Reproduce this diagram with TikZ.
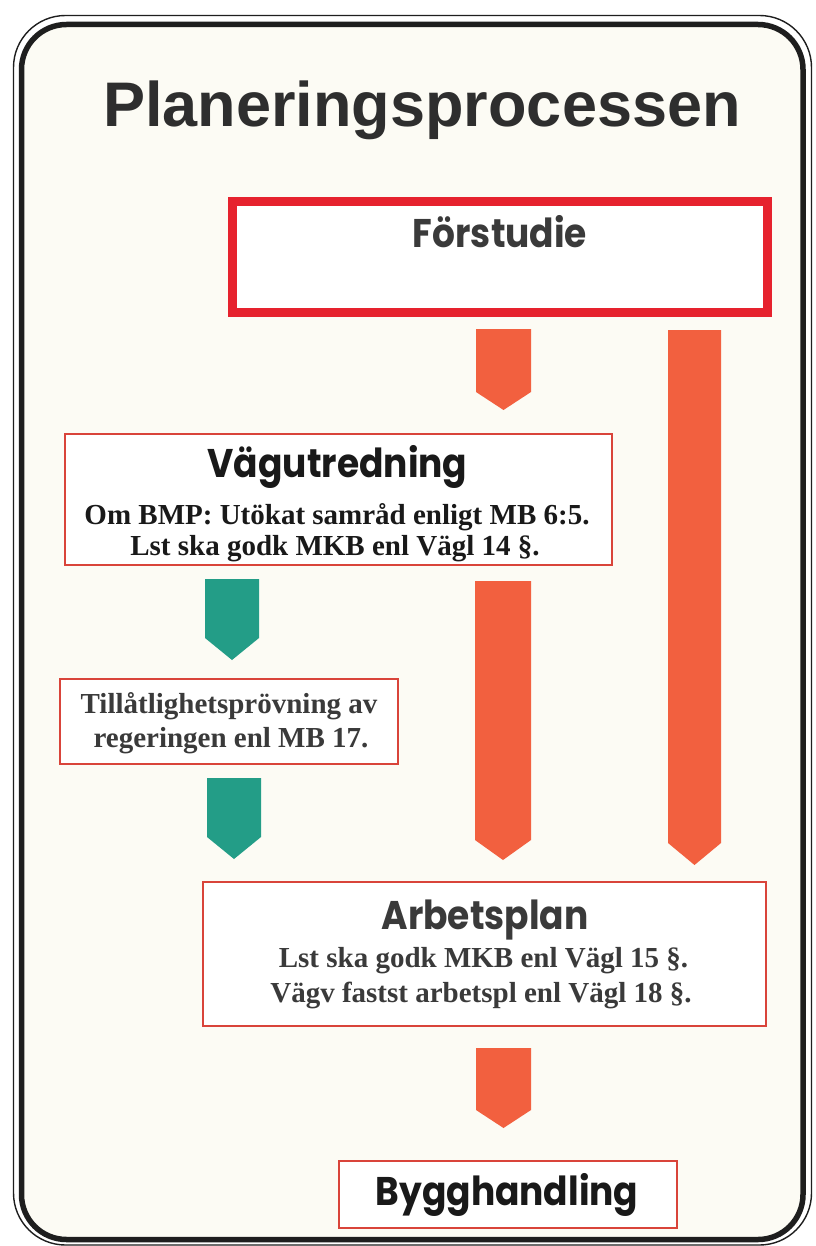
\documentclass[tikz,border=0pt]{standalone}
\usepackage{fontspec}
\setmainfont{Liberation Serif}
\newfontfamily\titlefont{Liberation Sans}
\newfontfamily\futura{Poppins}[FakeStretch=0.9]
\definecolor{cream}{HTML}{FCFBF4}
\definecolor{frameblack}{HTML}{1E1E1E}
\definecolor{boxred}{HTML}{D9443A}
\definecolor{strongred}{HTML}{E6222E}
\definecolor{arroworange}{HTML}{F2603F}
\definecolor{arrowteal}{HTML}{239D87}
\definecolor{darktext}{HTML}{3A3A3A}
\tikzset{
  thinbox/.style={draw=boxred, line width=2pt, fill=white, rectangle, inner sep=0pt},
  thickbox/.style={draw=strongred, line width=9pt, fill=white, rectangle, inner sep=0pt},
  headtext/.style={anchor=base, inner sep=0pt, font=\futura\bfseries\fontsize{40}{40}\selectfont},
  bodytext/.style={anchor=base, inner sep=0pt, font=\bfseries\fontsize{29}{29}\selectfont},
  orangearrow/.style={fill=arroworange},
  tealarrow/.style={fill=arrowteal}
}
\newcommand\blockarr[6]{%
  \fill[#6] (#1,#3) -- (#2,#3) -- (#2,#4) -- ({(#1+#2)/2},#5) -- (#1,#4) -- cycle;}
\begin{document}
\begin{tikzpicture}[x=1pt,y=-1pt]
\useasboundingbox (0,0) rectangle (815,1246);
\fill[white] (0,0) rectangle (815,1246);
% frame
\draw[line width=1.4pt, color=frameblack, rounded corners=52pt] (13.5,15.5) rectangle (811.5,1245);
\draw[line width=5.5pt, color=frameblack, fill=cream, rounded corners=45pt] (21.5,24.5) rectangle (803,1239.5);
% title
\node[anchor=base, inner sep=0pt, text=darktext!80!black, font=\titlefont\bfseries\fontsize{63}{63}\selectfont] (title) at (422,127) {Planeringsprocessen};
% boxes
\node[thickbox, minimum width=535pt, minimum height=111pt] (for) at (500,257) {};
\node[thinbox, minimum width=547pt, minimum height=131pt] (vag) at (338.5,499.5) {};
\node[thinbox, minimum width=338pt, minimum height=85pt] (till) at (229,721.5) {};
\node[thinbox, minimum width=563pt, minimum height=144pt] (arb) at (484.5,954) {};
\node[thinbox, minimum width=338pt, minimum height=67pt] (byg) at (508,1194.5) {};
% texts
\node[headtext, text=darktext] (fort) at (500,248) {Förstudie};
\node[headtext, text=black!90] (vagt) at (337.5,477) {Vägutredning};
\node[bodytext, text=black!90] (vag1) at (337,524) {Om BMP: Utökat samråd enligt MB 6:5.};
\node[bodytext, text=black!90] (vag2) at (335,555) {Lst ska godk MKB enl Vägl 14 §.};
\node[bodytext, text=darktext] (till1) at (229,713) {Tillåtlighetsprövning av};
\node[bodytext, text=darktext] (till2) at (231,747) {regeringen enl MB 17.};
\node[headtext, text=darktext] (arbt) at (485,929) {Arbetsplan};
\node[bodytext, text=darktext] (arb1) at (483.5,967) {Lst ska godk MKB enl Vägl 15 §.};
\node[bodytext, text=darktext] (arb2) at (481,1002) {Vägv fastst arbetspl enl Vägl 18 §.};
\node[headtext, text=black!90] (bygt) at (507,1205) {Bygghandling};
% block arrows
\blockarr{476}{531}{329}{392}{410}{orangearrow}
\blockarr{668}{721}{330}{843}{865}{orangearrow}
\blockarr{475}{531}{581}{840}{860}{orangearrow}
\blockarr{205}{259}{579}{638}{660}{tealarrow}
\blockarr{207}{261}{778}{837}{859}{tealarrow}
\blockarr{476}{531}{1048}{1110}{1128}{orangearrow}
\end{tikzpicture}
\end{document}
